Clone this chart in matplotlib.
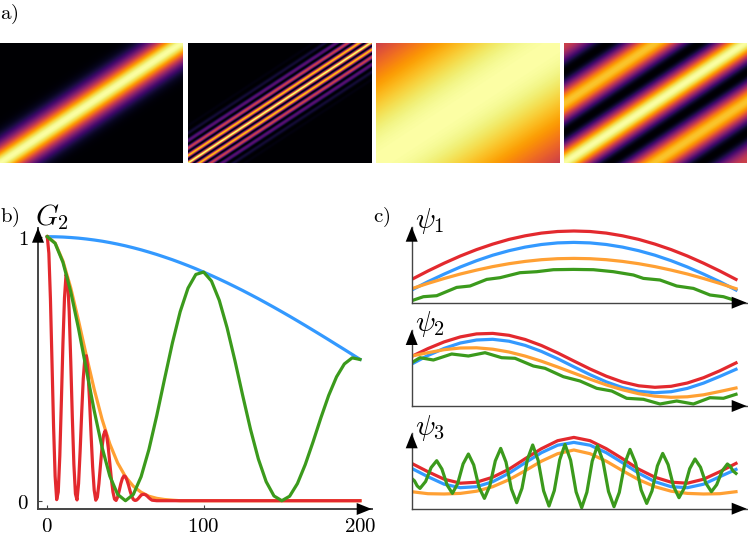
#!/usr/bin/env python3
# -*- coding: utf-8 -*-
import numpy as np
import matplotlib
matplotlib.use('Agg')
import matplotlib.pyplot as plt

plt.rcParams['mathtext.fontset'] = 'cm'

W, H = 748, 534

BLUE = '#3399ff'
ORANGE = '#ffa033'
GREEN = '#3b9a1c'
RED = '#e3292e'
SPINE = '#444444'

# G2 curves, read off panel b)
lag = list(range(0, 205, 5))
g2_blue = [1, .9996, .9986, .9968, .9944, .9912, .9874, .983, .9777, .9718, .9653,
           .958, .9502, .9416, .9326, .9228, .9127, .9018, .8904, .8785, .8658,
           .8528, .8393, .8253, .8108, .796, .7806, .765, .7488, .7324, .7156,
           .6986, .6812, .6636, .6457, .6277, .6095, .591, .5727, .5541, .5354]
g2_orange = [1, .976, .908, .806, .681, .549, .422, .309, .215, .143, .091,
             .055, .032, .017, .009, .0045, .002, 0, 0, 0, 0,
             0, 0, 0, 0, 0, 0, 0, 0, 0, 0,
             0, 0, 0, 0, 0, 0, 0, 0, 0, 0]
g2_green = [1, .975, .903, .791, .651, .496, .341, .203, .093, .024, 0,
            .0235, .091, .194, .322, .461, .597, .716, .805, .857, .866,
            .832, .759, .655, .531, .398, .270, .158, .072, .018, 0,
            .017, .065, .137, .223, .314, .399, .469, .518, .541, .535]
red_lag = list(range(68)) + [70, 200]
g2_red = [1, .937, .765, .526, .283, .093, .004, .033, .170, .376,
          .595, .769, .857, .836, .717, .528, .317, .137, .026, .003,
          .065, .188, .333, .462, .539, .549, .491, .382, .250, .128,
          .040, .002, .013, .064, .134, .202, .249, .265, .246, .201,
          .141, .081, .033, .006, .001, .014, .038, .064, .084, .094,
          .091, .077, .058, .036, .018, .005, .001, .002, .007, .014,
          .021, .024, .024, .022, .017, .011, .006, .002, 0, 0]

# psi curves, heights above the axis in pixels
psi_x = [i * 16.215 for i in range(21)]

psi1_red = [23.3, 31.7, 39.5, 46.7, 53.1, 58.6, 63.3, 66.9, 69.6, 71.2, 71.7,
            71.2, 69.6, 66.9, 63.3, 58.6, 53.1, 46.7, 39.5, 31.7, 23.3]
psi1_blue = [12.7, 21, 28.6, 35.7, 42, 47.5, 52, 55.6, 58.2, 59.8, 60.3,
             59.8, 58.2, 55.6, 52, 47.5, 42, 35.7, 28.6, 21, 12.7]
psi1_orange = [14, 19.3, 24.2, 28.7, 32.6, 36.1, 39, 41.3, 43, 44, 44.3,
               44, 43, 41.3, 39, 36.1, 32.6, 28.7, 24.2, 19.3, 14]
psi1_green_x = [0, 11.7, 25, 45, 58.3, 75, 88.3, 108.3, 125, 141.7, 161.7,
                181.7, 201.7, 221.7, 231.7, 248.3, 265, 281.7, 298.3, 311.7, 324.3]
psi1_green = [2, 6, 7, 15.3, 16.7, 23.3, 25, 30, 31, 33, 33.3,
              33, 31, 27.7, 24.3, 22.7, 16.7, 14.3, 7.7, 6, 2]

psi2_red = [49.6, 57.4, 64.1, 69.1, 72.1, 72.6, 70.7, 66.5, 60.5, 53.1, 45,
            37, 29.8, 24, 20.2, 18.7, 19.7, 23, 28.3, 35.2, 43.1]
psi2_blue = [42, 50.5, 57.6, 63, 66, 66.7, 64.8, 60.6, 54.6, 47.3, 39.2,
             31.3, 24.1, 18.4, 14.7, 13.3, 14.3, 17.6, 22.9, 29.6, 36.7]
psi2_orange = [50, 53.3, 56.3, 58, 58.2, 56.8, 54, 49.9, 44.8, 39, 32.9,
               26.8, 21.1, 16.2, 12.3, 9.8, 8.7, 9.2, 11.2, 14.5, 18]
psi2_green_x = [0, 8.3, 21.7, 40, 56.7, 73.3, 90, 103.3, 121.7, 133.3, 151.7,
                168.3, 185, 200, 215, 231.7, 248.3, 265, 281.7, 298.3, 311.7, 324.3]
psi2_green = [43.3, 48.3, 46, 52, 50, 53.3, 48.3, 47.7, 40, 37.7, 29.3,
              25, 17.7, 15, 7.7, 6.7, 2, 5, 2, 8.3, 7.7, 11.7]

psi3_red = [45.3, 37, 29.5, 25.5, 26.5, 31.5, 39.5, 50, 60, 68, 71.3,
            68, 60, 50, 39.5, 31.5, 26.5, 25.5, 29.5, 37, 45.3]
psi3_blue = [40.3, 32, 24.5, 21, 22, 27, 35.5, 46, 56, 63.5, 66.3,
             63.5, 56, 46, 35.5, 27, 22, 21, 24.5, 32, 39.3]
psi3_orange = [17, 15, 14.7, 15.3, 17.5, 22, 29, 38, 47.5, 55, 58.7,
               55, 47.5, 38, 29, 22, 17.5, 15.3, 14.7, 15, 17]
psi3_green_x = [0, 2.8, 5.5, 8.3, 13.9, 19.4, 25, 30.2, 35.5, 40.7, 46, 51.4,
                56.7, 62, 67.4, 72.7, 78.1, 83.6, 89, 94.3, 99.7, 105, 110.3, 115.7,
                121, 126.4, 131.9, 137.3, 142.6, 148, 153.3, 158.9, 164.4, 170, 175.2, 180.5,
                185.7, 191.2, 196.8, 202.3, 207.6, 213, 218.3, 223.9, 229.4, 235, 240.3, 245.7,
                251, 256.4, 261.9, 267.3, 272.6, 278, 283.3, 288.8, 294.2, 299.7, 305, 310.4,
                315.7, 318.6, 321.4, 324.3]
psi3_green = [30.3, 27.8, 22.8, 20.3, 27.2, 41.1, 48, 39.7, 23.5, 15.3, 25.2, 44.8,
              54.7, 43.8, 21.2, 10.3, 22.8, 47.8, 60.3, 46.6, 19.7, 6, 20.4, 49.3,
              63.7, 48.5, 17.9, 2.7, 18.1, 48.9, 64.3, 48.5, 16.8, 1, 16.5, 47.5,
              63, 47.8, 17.2, 2, 16.3, 45, 59.3, 45.8, 18.8, 5.3, 17.8, 42.8,
              55.3, 44.1, 22.2, 11, 20.7, 40, 49.7, 41.4, 25.4, 17, 24, 37.7,
              44.7, 42.3, 37.7, 35.3]

G2_TICKS_X = [0, 100, 200]
G2_TICKS_Y = [0, 1]


def px_axes(fig, left, right, top, bottom):
    # axes given in picture pixels, y measured from the top
    return fig.add_axes([left / W, 1 - bottom / H, (right - left) / W, (bottom - top) / H])


def px_text(fig, x, y, s, size):
    fig.text(x / W, 1 - y / H, s, fontsize=size, va='baseline', ha='left')


def arrows(ax, lw):
    for side in ['top', 'right']:
        ax.spines[side].set_visible(False)
    for side in ['left', 'bottom']:
        ax.spines[side].set_linewidth(lw)
        ax.spines[side].set_color(SPINE)
    style = '-|>,head_length=1,head_width=0.4'
    props = dict(arrowstyle=style, mutation_scale=10.8, color='k', shrinkA=0, shrinkB=0, lw=0)
    ax.annotate('', xy=(1, 0), xytext=(0.9, 0), xycoords='axes fraction', arrowprops=props)
    ax.annotate('', xy=(0, 1), xytext=(0, 0.7), xycoords='axes fraction', arrowprops=props)


fig = plt.figure(figsize=(W / 100, H / 100), dpi=100)

# a) correlation maps built from the G2 curves
idx = np.arange(200)
dist = np.abs(idx[:, None] - idx[None, :])
maps = [np.interp(dist, lag, g2_orange), np.interp(dist, red_lag, g2_red),
        np.interp(dist, lag, g2_blue), np.interp(dist, lag, g2_green)]
lefts = [0, 188.3, 375.7, 564]
rights = [183, 371.3, 559, 746.7]
for m, l, r in zip(maps, lefts, rights):
    ax = px_axes(fig, l, r, 43, 163.3)
    ax.imshow(m, cmap='inferno', vmin=0, vmax=1, origin='lower', aspect='auto')
    ax.axis('off')

# b)
ax = px_axes(fig, 38, 371.7, 227.7, 509)
ax.patch.set_alpha(0)
lw = 2.3
ax.plot(lag, g2_blue, color=BLUE, lw=lw)
ax.plot(lag, g2_orange, color=ORANGE, lw=lw)
ax.plot(red_lag, g2_red, color=RED, lw=lw)
ax.plot(lag, g2_green, color=GREEN, lw=lw)
ax.set_xlim(-5.95, 207.5)
ax.set_ylim(-0.0314, 1.034)
ax.set_xticks(G2_TICKS_X)
ax.set_xticklabels(['$%d$' % t for t in G2_TICKS_X], fontsize=15)
ax.set_yticks(G2_TICKS_Y)
ax.set_yticklabels(['$%d$' % t for t in G2_TICKS_Y], fontsize=15)
ax.tick_params(direction='in', length=3, width=0.8, color=SPINE, pad=5)
ax.tick_params(axis='y', pad=7)
arrows(ax, 1.4)

# c)
boxes = [(226.7, 302.7), (330, 406), (433.3, 508.7)]
psi_sets = [(psi1_blue, psi1_red, psi1_orange, psi1_green_x, psi1_green),
            (psi2_blue, psi2_red, psi2_orange, psi2_green_x, psi2_green),
            (psi3_blue, psi3_red, psi3_orange, psi3_green_x, psi3_green)]
for (top, bottom), (b, r, o, gx, g) in zip(boxes, psi_sets):
    ax = px_axes(fig, 411.7, 746.7, top, bottom)
    ax.patch.set_alpha(0)
    ax.plot(psi_x, b, color=BLUE, lw=lw)
    ax.plot(psi_x, r, color=RED, lw=lw)
    ax.plot(psi_x, o, color=ORANGE, lw=lw)
    ax.plot(gx, g, color=GREEN, lw=lw)
    ax.set_xlim(0, 335)
    ax.set_ylim(0, bottom - top)
    ax.set_xticks([])
    ax.set_yticks([])
    arrows(ax, 1.0)

px_text(fig, 0, 19, r'$\mathrm{a)}$', 15)
px_text(fig, 0, 222, r'$\mathrm{b)}$', 15)
px_text(fig, 373, 222, r'$\mathrm{c)}$', 15)
px_text(fig, 35, 225, r'$G_2$', 21)
px_text(fig, 415, 228, r'$\psi_1$', 21)
px_text(fig, 415, 331, r'$\psi_2$', 21)
px_text(fig, 415, 435, r'$\psi_3$', 21)

fig.savefig('out.png', dpi=100)
